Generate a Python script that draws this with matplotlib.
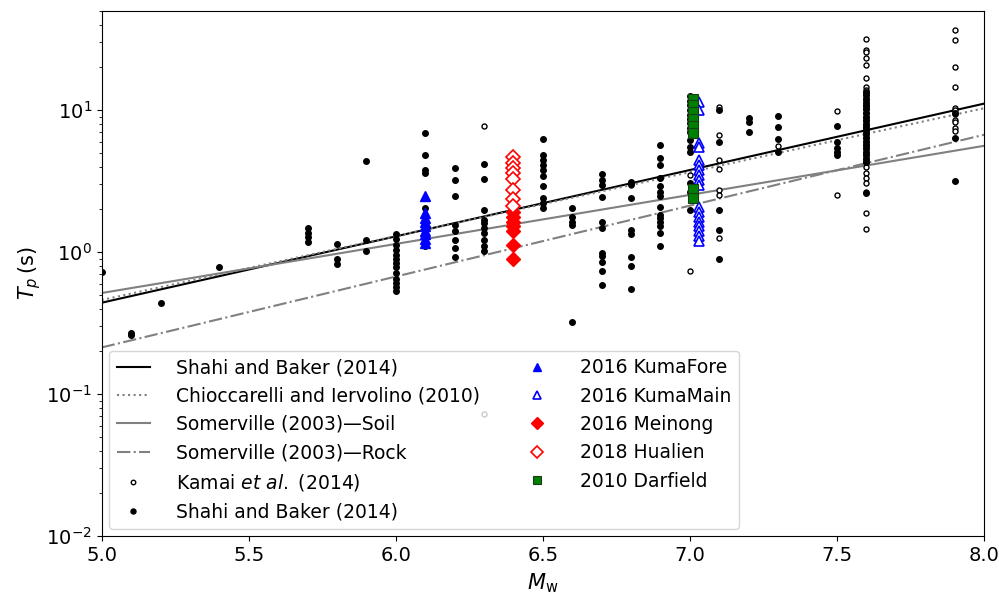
import numpy as np
import matplotlib
matplotlib.use("Agg")
import matplotlib.pyplot as plt

# model lines, read at Mw = 5 and Mw = 8
line_mw = [5.0, 8.0]
shahi_line = [0.44, 11.1]
chiocc_line = [0.46, 10.3]
somer_soil = [0.515, 5.6]
somer_rock = [0.213, 6.7]

# Shahi and Baker (2014) records, grouped by magnitude
shahi_levels = [5.0, 5.1, 5.2, 5.4, 5.7, 5.8, 5.9, 6.0, 6.1, 6.2, 6.3, 6.5, 6.6,
                6.7, 6.8, 6.9, 7.0, 7.1, 7.2, 7.3, 7.5, 7.6, 7.9]
shahi_tp = [
    [0.72],
    [0.27, 0.26],
    [0.44],
    [0.79],
    [1.48, 1.36, 1.27, 1.17],
    [1.14, 0.89, 0.82],
    [4.4, 1.22, 1.01],
    [1.34, 1.24, 1.13, 1.04, 0.96, 0.9, 0.84, 0.79, 0.71, 0.65, 0.61, 0.57, 0.53],
    [6.86, 4.83, 3.79, 3.6, 2.04, 1.1],
    [3.9, 3.23, 2.47, 1.56, 1.4, 1.22, 1.07, 0.93],
    [4.16, 3.27, 1.99, 1.69, 1.6, 1.48, 1.36, 1.22, 1.1, 1.01],
    [6.25, 4.83, 4.46, 4.11, 3.79, 3.41, 2.9, 2.4, 2.21, 2.04],
    [2.04, 1.78, 1.64, 1.56, 0.32],
    [3.56, 3.23, 2.98, 2.44, 1.62, 1.48, 0.99, 0.94, 0.85, 0.73, 0.59],
    [3.14, 3.01, 2.4, 1.44, 1.35, 0.92, 0.8, 0.55],
    [5.68, 4.58, 4.11, 3.32, 2.9, 2.67, 2.47, 2.09, 1.83, 1.74, 1.64, 1.52, 1.36, 1.1],
    [12.5, 11.6, 10.8, 10.0, 9.3, 8.6, 8.06, 7.43, 7.05, 6.15, 5.52, 5.1, 3.06, 2.67, 1.99],
    [10.0, 6.0, 1.99, 1.44, 0.89],
    [8.76, 8.28, 7.05],
    [9.08, 7.57, 6.23, 5.1],
    [7.76, 5.99, 5.38, 5.1, 4.83],
    [13.5, 12.8, 12.0, 11.3, 10.7, 10.1, 9.5, 9.0, 8.5, 8.0, 7.6, 7.2, 6.8, 6.4,
     6.0, 5.7, 5.4, 5.1, 4.8, 4.5, 4.3, 2.6],
    [9.6, 6.4, 3.18],
]

# Kamai et al. (2014) records
kamai_levels = [6.3, 6.8, 6.9, 7.0, 7.1, 7.3, 7.5, 7.6, 7.9]
kamai_tp = [
    [7.76, 0.072],
    [2.95],
    [3.3],
    [3.5, 0.73],
    [10.5, 6.65, 4.46, 3.83, 2.74, 2.53, 1.26],
    [5.6],
    [9.9, 2.53],
    [31.8, 26.7, 25.6, 23.4, 20.7, 16.7, 14.6, 13.8, 13.0, 12.2, 11.5, 10.8, 10.2,
     9.6, 9.0, 8.4, 7.9, 7.4, 7.0, 6.5, 6.1, 5.7, 5.3, 4.9, 4.6, 4.3, 4.0, 3.6,
     3.32, 3.09, 2.67, 1.88, 1.45],
    [36.9, 31.3, 20.0, 14.6, 10.3, 10.0, 9.4, 8.5, 8.3, 7.45, 7.16],
]

# recent events
kumafore_mw = 6.1
kumafore_tp = [2.49, 1.88, 1.74, 1.64, 1.52, 1.4, 1.33, 1.24, 1.16]
kumamain_mw = 7.03
kumamain_tp = [11.4, 10.0, 5.84, 5.52, 4.46, 4.11, 3.79, 3.5, 3.23, 2.98, 2.09,
               1.93, 1.78, 1.64, 1.52, 1.4, 1.29, 1.19]
meinong_mw = 6.4
meinong_tp = [1.93, 1.78, 1.64, 1.52, 1.4, 1.13, 0.9]
hualien_mw = 6.4
hualien_tp = [4.66, 4.27, 3.94, 3.63, 3.27, 2.75, 2.36, 2.1]
darfield_mw = 7.01
darfield_tp = [12.0, 10.8, 9.7, 8.6, 7.7, 6.9, 2.8, 2.4]


def flatten(levels, groups):
    xs = np.repeat(levels, [len(g) for g in groups])
    ys = np.concatenate([np.asarray(g, float) for g in groups])
    return xs, ys


fig = plt.figure(figsize=(9.99, 6.01), dpi=100)
ax = fig.add_axes([0.1018, 0.108, 0.8832, 0.874])

gray = "#808080"
ax.plot(line_mw, shahi_line, color="k", lw=1.5, label="Shahi and Baker (2014)")
ax.plot(line_mw, chiocc_line, color=gray, lw=1.5, ls=":",
        label="Chioccarelli and Iervolino (2010)")
ax.plot(line_mw, somer_soil, color=gray, lw=1.5, label="Somerville (2003)—Soil")
ax.plot(line_mw, somer_rock, color=gray, lw=1.5, ls="-.",
        label="Somerville (2003)—Rock")

kx, ky = flatten(kamai_levels, kamai_tp)
ax.plot(kx, ky, ls="", marker="o", ms=3.6, mfc="white", mec="k", mew=1.0,
        label=r"Kamai $\it{et\ al.}$ (2014)")
sx, sy = flatten(shahi_levels, shahi_tp)
ax.plot(sx, sy, ls="", marker="o", ms=4, color="k", label="Shahi and Baker (2014)")

ax.plot([kumafore_mw] * len(kumafore_tp), kumafore_tp, ls="", marker="^", ms=7,
        color="blue", label="2016 KumaFore")
ax.plot([kumamain_mw] * len(kumamain_tp), kumamain_tp, ls="", marker="^", ms=7,
        mfc="white", mec="blue", mew=1.2, label="2016 KumaMain")
ax.plot([meinong_mw] * len(meinong_tp), meinong_tp, ls="", marker="D", ms=7,
        color="red", label="2016 Meinong")
ax.plot([hualien_mw] * len(hualien_tp), hualien_tp, ls="", marker="D", ms=7,
        mfc="white", mec="red", mew=1.2, label="2018 Hualien")
ax.plot([darfield_mw] * len(darfield_tp), darfield_tp, ls="", marker="s", ms=7,
        mfc="green", mec="#1a3a1a", mew=0.8, label="2010 Darfield")

ax.set_yscale("log")
ax.set_xlim(5.0, 8.0)
ax.set_ylim(1e-2, 50)
ax.set_xticks(np.arange(5.0, 8.01, 0.5))
ax.tick_params(labelsize=14)
ax.set_xlabel(r"$M_\mathrm{w}$", fontsize=15, labelpad=5)
ax.set_ylabel(r"$T_p\,$(s)", fontsize=15, labelpad=2)

ax.legend(loc="lower left", ncol=2, fontsize=13.5, numpoints=1,
          labelspacing=0.5, columnspacing=2.2, handlelength=1.75,
          handletextpad=1.4, markerscale=0.9, borderaxespad=0.4)

fig.savefig("out.png", dpi=100)
